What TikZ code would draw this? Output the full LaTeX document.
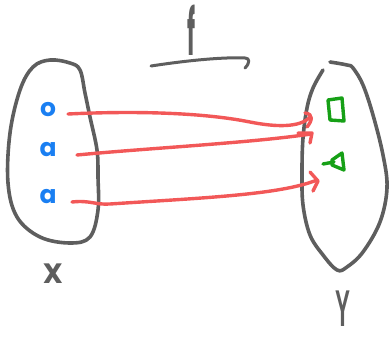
\documentclass[tikz,border=0pt]{standalone}
\usepackage{fontspec}
\setmainfont{Poppins}
\newfontfamily\slimfont{Liberation Sans}
\definecolor{pen}{HTML}{5E5E5E}
\definecolor{redpen}{HTML}{F25858}
\definecolor{bluepen}{HTML}{1A7FF2}
\definecolor{greenpen}{HTML}{16A016}
\begin{document}
\begin{tikzpicture}[x=1pt,y=-1pt,
  outline/.style={draw=pen,line width=3.6pt,line cap=round,line join=round},
  mapline/.style={draw=redpen,line width=3.4pt,line cap=round,line join=round},
  elem/.style={text=bluepen,font=\fontsize{25}{25}\selectfont\bfseries,inner sep=0pt},
  setname/.style={text=pen,font=\fontsize{28}{28}\selectfont\bfseries,inner sep=0pt},
  shapeink/.style={draw=greenpen,line width=3.4pt,line cap=round,line join=round}]
\useasboundingbox (0,0) rectangle (389,337);

% set X
\draw[outline] plot[smooth cycle,tension=0.6] coordinates {
  (50,60) (70,63) (80,70) (85,93) (90,117) (97,150) (98,177) (98,210)
  (90,237) (70,243) (40,237) (17,217) (8,183) (10,133) (20,90) (33,67)};
% set Y
\draw[outline] plot[smooth,tension=0.6] coordinates {
  (323,70) (313,88) (307,108) (303,138) (302,172) (303,205) (310,235)
  (323,255) (337,270) (347,267) (363,252) (380,222) (387,188) (383,155)
  (373,115) (363,85) (353,68) (347,65) (330,62)};

% elements of X
\node[elem] (x1) at (48,110) {o};
\node[elem] (x2) at (48,150) {a};
\node[elem] (x3) at (48,197) {a};

% elements of Y
\draw[shapeink] (328,100) -- (342,98) -- (344,121) -- (330,120) -- cycle;
\draw[shapeink] (323,164) -- (334,162) (332,160) -- (342,153) -- (344,170) -- (332,165) -- cycle;

% labels
\node[setname] (X) at (53,274) {X};
\node[setname,anchor=base] (Y) at (343,326) {\slimfont\scalebox{0.8}[1.85]{Y}};
\node[setname] (f) at (192,30) {\scalebox{0.8}[2.3]{f}};

% arrow f
\coordinate (fs) at (151,66);
\coordinate (fe) at (245,58);
\draw[outline,line width=3pt] (fs) .. controls (190,60) and (225,57) .. (fe)
  .. controls (250,58) and (250,63) .. (245,68);

% mapping arrows
\coordinate (a1s) at (68,114);  \coordinate (a1e) at (310,117);
\coordinate (a2s) at (77,155);  \coordinate (a2e) at (311,134);
\coordinate (a3s) at (72,202);  \coordinate (a3e) at (317,180);
\draw[mapline] (a1s) .. controls (130,111) and (200,112) .. (250,122)
  .. controls (275,127) and (300,128) .. (a1e);
\draw[mapline] (305,113) .. controls (314,114) and (312,121) .. (307,127);
\draw[mapline] (a2s) .. controls (150,148) and (250,143) .. (a2e);
\draw[mapline] (298,133) -- (312,133) -- (310,143);
\draw[mapline] (a3s) .. controls (90,200) and (95,205) .. (110,204)
  .. controls (200,198) and (280,195) .. (a3e);
\draw[mapline] (310,172) -- (318,181) -- (313,191);
\end{tikzpicture}
\end{document}
